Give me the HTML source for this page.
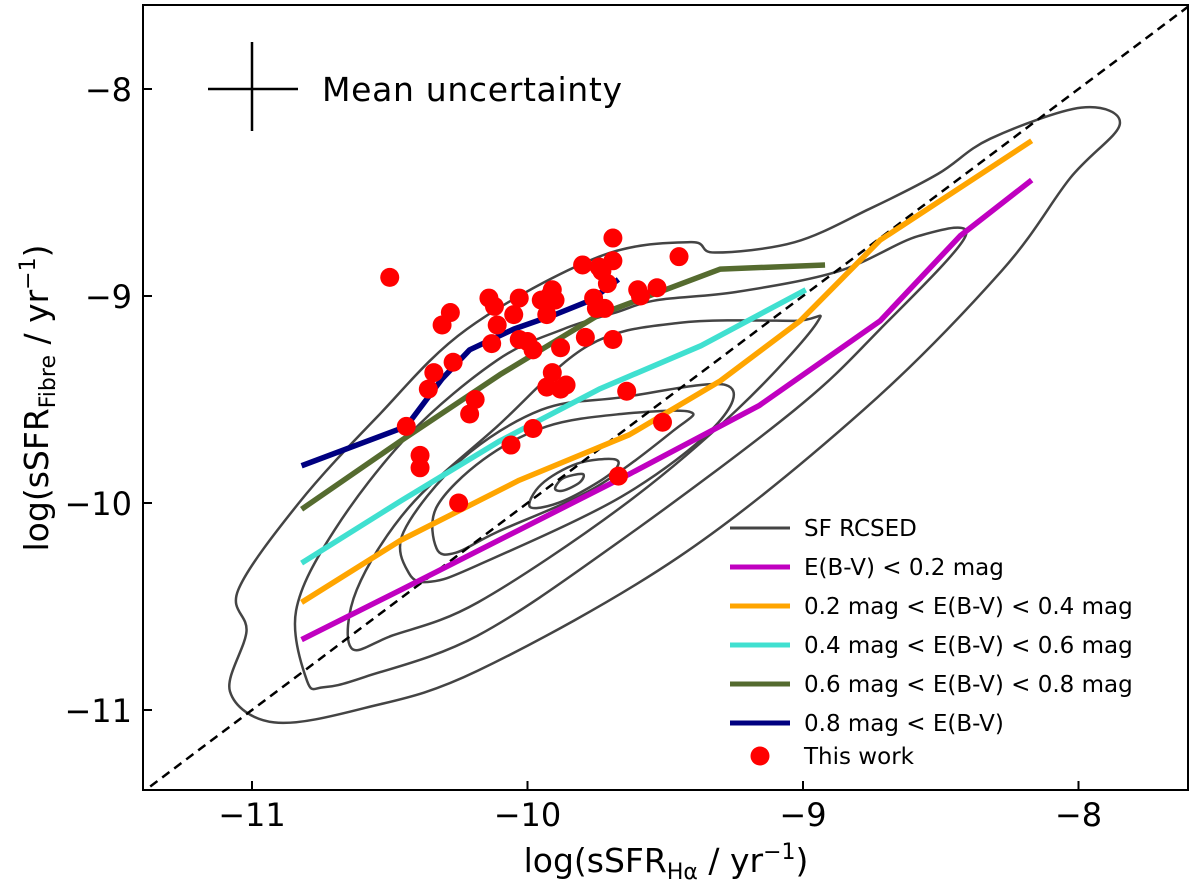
<!DOCTYPE html>
<html><head><meta charset="utf-8"><style>
body{margin:0;background:#fff}
svg{display:block;font-family:"DejaVu Sans","Liberation Sans",sans-serif}
</style></head><body>
<svg id="chart" width="1200" height="888" viewBox="0 0 1200 888" xmlns="http://www.w3.org/2000/svg">
<defs><clipPath id="pc"><rect x="143" y="5" width="1045" height="785"/></clipPath></defs>
<g id="contours" clip-path="url(#pc)"></g>
<line id="diag" stroke="#000" stroke-width="2.5" stroke-dasharray="9,6" clip-path="url(#pc)"/>
<g id="lines" clip-path="url(#pc)"></g>
<g id="points" clip-path="url(#pc)"></g>
<rect x="143" y="5" width="1045" height="785" fill="none" stroke="#000" stroke-width="2"/>
<g id="ticks"></g>
<g>
<line x1="208" y1="89" x2="298" y2="89" stroke="#000" stroke-width="2.5"/>
<line x1="252" y1="42" x2="252" y2="131" stroke="#000" stroke-width="2.5"/>
<text x="322" y="101" font-size="33" textLength="300">Mean uncertainty</text>
</g>
<text x="666" y="872" font-size="33" text-anchor="middle">log(sSFR<tspan font-size="22" dy="7">Hα</tspan><tspan dy="-7"> / yr</tspan><tspan font-size="22" dy="-13">−1</tspan><tspan dy="13">)</tspan></text>
<text transform="translate(48,398) rotate(-90)" font-size="33" text-anchor="middle">log(sSFR<tspan font-size="22" dy="7">Fibre</tspan><tspan dy="-7"> / yr</tspan><tspan font-size="22" dy="-13">−1</tspan><tspan dy="13">)</tspan></text>
<g id="legend"></g>
</svg>
<script>
const NS="http://www.w3.org/2000/svg";
const xTicks=[-11,-10,-9,-8];
const yTicks=[-8,-9,-10,-11];
const ptX=[-10.50,-10.31,-10.28,-10.27,-10.34,-10.36,-10.39,-10.39,-10.44,-10.25,-10.21,-10.19,-10.14,-10.12,-10.13,-10.11,-10.03,-10.05,-10.03,-10.00,-10.06,-9.98,-9.92,-9.90,-9.95,-9.93,-9.91,-9.98,-9.88,-9.91,-9.93,-9.88,-9.86,-9.80,-9.74,-9.73,-9.71,-9.69,-9.69,-9.76,-9.75,-9.69,-9.72,-9.79,-9.60,-9.59,-9.53,-9.45,-9.64,-9.51,-9.67];
const ptY=[-8.91,-9.14,-9.08,-9.32,-9.37,-9.45,-9.77,-9.83,-9.63,-10.00,-9.57,-9.50,-9.01,-9.05,-9.23,-9.14,-9.01,-9.09,-9.21,-9.22,-9.72,-9.64,-9.00,-9.02,-9.02,-9.09,-8.97,-9.26,-9.25,-9.37,-9.44,-9.45,-9.43,-8.85,-8.86,-8.88,-8.94,-8.83,-8.72,-9.01,-9.06,-9.21,-9.06,-9.20,-8.97,-9.00,-8.96,-8.81,-9.46,-9.61,-9.87];
const magX=[-10.82,-10.46,-10.03,-9.63,-9.16,-8.72,-8.43,-8.17];
const magY=[-10.66,-10.42,-10.13,-9.86,-9.53,-9.12,-8.71,-8.44];
const oraX=[-10.82,-10.46,-10.03,-9.63,-9.30,-9.01,-8.72,-8.17];
const oraY=[-10.48,-10.18,-9.89,-9.67,-9.41,-9.12,-8.73,-8.25];
const cyaX=[-10.82,-10.46,-10.10,-9.74,-9.37,-8.99];
const cyaY=[-10.29,-9.99,-9.70,-9.45,-9.24,-8.97];
const grnX=[-10.82,-10.46,-10.10,-9.74,-9.30,-8.92];
const grnY=[-10.03,-9.70,-9.38,-9.09,-8.87,-8.85];
const navX=[-10.82,-10.44,-10.31,-10.21,-10.05,-9.90,-9.77,-9.67];
const navY=[-9.82,-9.63,-9.40,-9.26,-9.16,-9.09,-9.02,-8.92];
const c1X=[-10.92,-11.08,-11.02,-11.05,-10.83,-10.55,-10.22,-9.74,-9.41,-9.32,-9.03,-8.76,-8.51,-8.32,-7.99,-7.85,-8.03,-8.28,-8.78,-9.45,-10.18,-10.59];
const c1Y=[-11.06,-10.91,-10.62,-10.42,-10.00,-9.59,-9.16,-8.81,-8.74,-8.79,-8.74,-8.58,-8.41,-8.24,-8.09,-8.17,-8.43,-8.88,-9.55,-10.26,-10.81,-10.99];
const c2X=[-10.80,-10.84,-10.70,-10.43,-10.11,-9.87,-9.68,-9.53,-9.24,-8.87,-8.58,-8.41,-8.72,-9.03,-9.66,-10.18,-10.59,-10.74];
const c2Y=[-10.86,-10.52,-10.13,-9.67,-9.31,-9.16,-9.08,-9.02,-8.98,-8.88,-8.71,-8.71,-9.16,-9.55,-10.18,-10.64,-10.84,-10.89];
const c3X=[-10.64,-10.62,-10.43,-10.11,-9.78,-9.45,-9.03,-8.95,-9.24,-9.66,-10.18,-10.49];
const c3Y=[-10.70,-10.42,-10.02,-9.63,-9.24,-9.13,-9.12,-9.13,-9.55,-10.02,-10.48,-10.64];
const c4X=[-10.43,-10.45,-10.24,-9.95,-9.66,-9.28,-9.32,-9.66,-10.18,-10.35];
const c4Y=[-10.34,-10.14,-9.79,-9.55,-9.49,-9.43,-9.63,-9.97,-10.30,-10.38];
const c5X=[-10.33,-10.33,-10.16,-9.93,-9.66,-9.41,-9.47,-9.76,-10.11,-10.26];
const c5Y=[-10.22,-10.02,-9.79,-9.63,-9.57,-9.56,-9.65,-9.93,-10.14,-10.24];
const c6X=[-9.99,-9.95,-9.82,-9.68,-9.70,-9.87];
const c6Y=[-10.02,-9.91,-9.81,-9.79,-9.86,-9.99];
const c7X=[-9.90,-9.87,-9.80,-9.81,-9.87];
const c7Y=[-9.93,-9.88,-9.86,-9.90,-9.94];
const X=v=>252+(v+11)*275.5, Y=v=>89+(-8-v)*207;
function mk(t,a,p){const e=document.createElementNS(NS,t);for(const k in a)e.setAttribute(k,a[k]);(p||document.getElementById('chart')).appendChild(e);return e;}
function smooth(xs,ys){const P=xs.map((x,i)=>[X(x),Y(ys[i])]);const n=P.length;let s='M'+P[0][0]+','+P[0][1];
for(let i=0;i<n;i++){const p0=P[(i-1+n)%n],p1=P[i],p2=P[(i+1)%n],p3=P[(i+2)%n];
s+='C'+(p1[0]+(p2[0]-p0[0])/6)+','+(p1[1]+(p2[1]-p0[1])/6)+' '+(p2[0]-(p3[0]-p1[0])/6)+','+(p2[1]-(p3[1]-p1[1])/6)+' '+p2[0]+','+p2[1];}
return s+'Z';}
const d=document.getElementById('diag');
d.setAttribute('x1',X(-11.5));d.setAttribute('y1',Y(-11.5));d.setAttribute('x2',X(-7.5));d.setAttribute('y2',Y(-7.5));
const cg=document.getElementById('contours');
[[c1X,c1Y],[c2X,c2Y],[c3X,c3Y],[c4X,c4Y],[c5X,c5Y],[c6X,c6Y],[c7X,c7Y]].forEach(c=>{
const e=mk('path',{d:smooth(c[0],c[1]),fill:'none',stroke:'#444',"stroke-width":2.5},cg);

});
const lg=document.getElementById('lines');
const series=[[magX,magY,'#c000c0','line-ebv-lt-0.2'],[oraX,oraY,'#ffa500','line-ebv-0.2-0.4'],[cyaX,cyaY,'#40e0d0','line-ebv-0.4-0.6'],[grnX,grnY,'#556b2f','line-ebv-0.6-0.8'],[navX,navY,'#000080','line-ebv-gt-0.8']];
series.forEach(s=>{const e=mk('polyline',{points:s[0].map((x,i)=>X(x)+','+Y(s[1][i])).join(' '),fill:'none',stroke:s[2],"stroke-width":5.5,"stroke-linejoin":"round"},lg);

});
const pg=document.getElementById('points');
ptX.forEach((x,i)=>{const c=mk('circle',{cx:X(x),cy:Y(ptY[i]),r:9.5,fill:'#ff0000'},pg);

});
const tg=document.getElementById('ticks');
xTicks.forEach(v=>{mk('line',{x1:X(v),x2:X(v),y1:790,y2:781,stroke:'#000',"stroke-width":2},tg);
const t=mk('text',{x:X(v),y:826,"font-size":32,"text-anchor":"middle"},tg);t.textContent='−'+Math.abs(v);

});
yTicks.forEach(v=>{mk('line',{x1:143,x2:152,y1:Y(v),y2:Y(v),stroke:'#000',"stroke-width":2},tg);
const t=mk('text',{x:132,y:Y(v)+12,"font-size":32,"text-anchor":"end"},tg);t.textContent='−'+Math.abs(v);

});
const lgd=document.getElementById('legend');
const items=[['#444','SF RCSED',3],['#c000c0','E(B-V) < 0.2 mag',5],['#ffa500','0.2 mag < E(B-V) < 0.4 mag',5],['#40e0d0','0.4 mag < E(B-V) < 0.6 mag',5],['#556b2f','0.6 mag < E(B-V) < 0.8 mag',5],['#000080','0.8 mag < E(B-V)',5]];
items.forEach((it,i)=>{const y=528+i*39;mk('line',{x1:730,x2:790,y1:y,y2:y,stroke:it[0],"stroke-width":it[2]},lgd);
const t=mk('text',{x:804,y:y+8,"font-size":23},lgd);t.textContent=it[1];

});
mk('circle',{cx:760,cy:756,r:9.5,fill:'#ff0000'},lgd);
const tw=mk('text',{x:804,y:764,"font-size":23},lgd);tw.textContent='This work';


</script>
</body></html>
